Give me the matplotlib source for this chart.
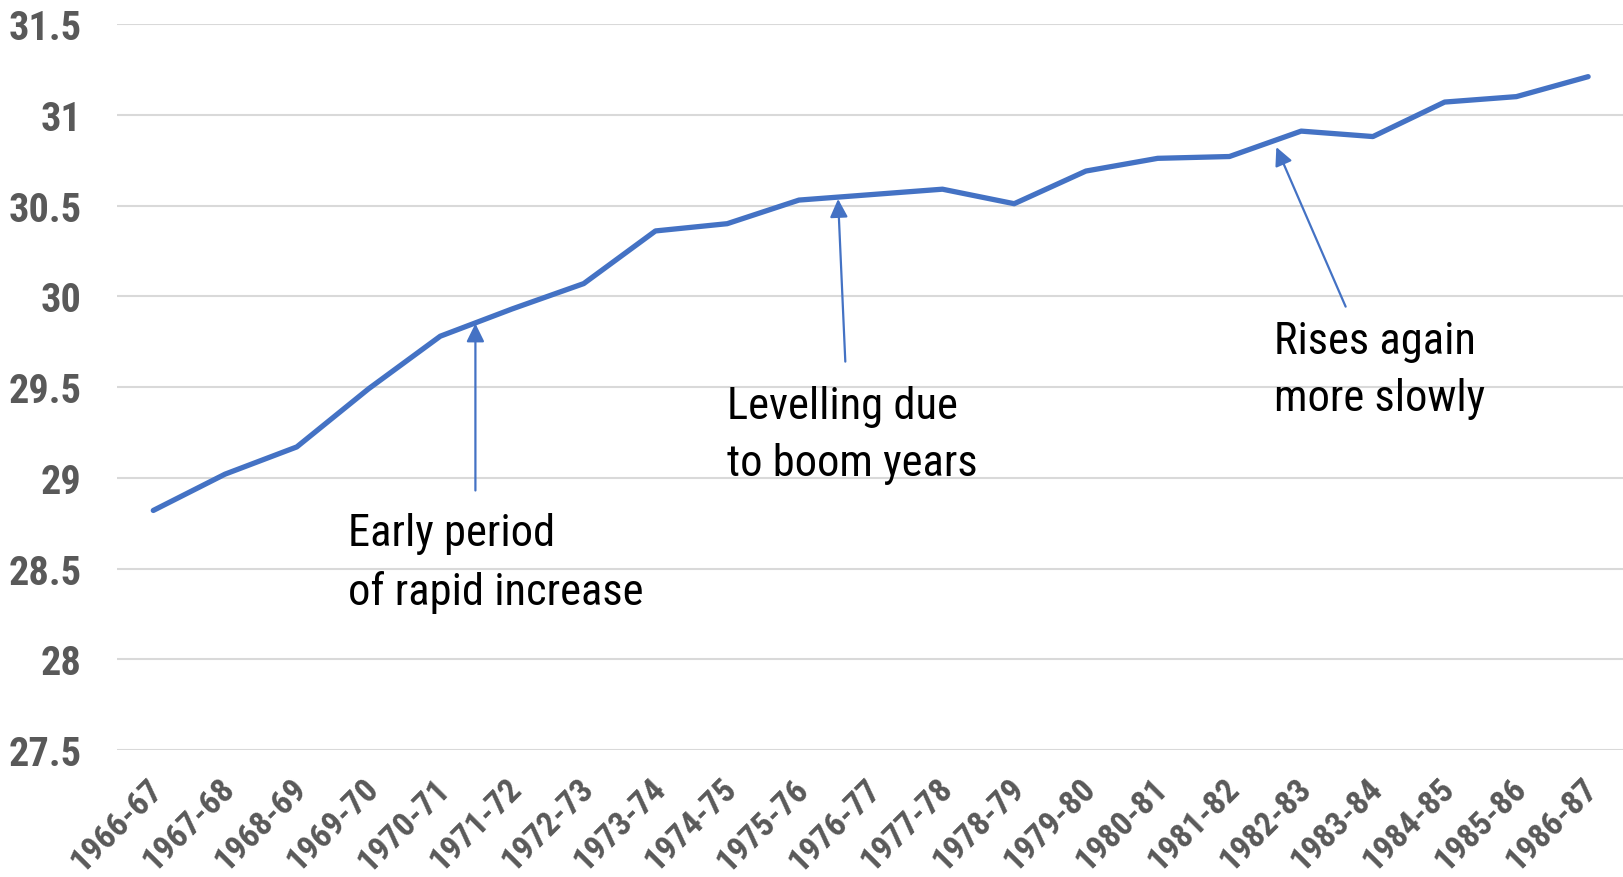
import matplotlib.pyplot as plt
from matplotlib import font_manager
import matplotlib.transforms as mtransforms

names = {f.name for f in font_manager.fontManager.ttflist}
narrow = next(n for n in ["Liberation Sans Narrow", "Arial Narrow", "Roboto Condensed",
                          "Archivo Narrow", "Barlow Semi Condensed", "DejaVu Sans"]
              if n in names)

years = ["1966-67", "1967-68", "1968-69", "1969-70", "1970-71", "1971-72",
         "1972-73", "1973-74", "1974-75", "1975-76", "1976-77", "1977-78",
         "1978-79", "1979-80", "1980-81", "1981-82", "1982-83", "1983-84",
         "1984-85", "1985-86", "1986-87"]
values = [28.82, 29.02, 29.17, 29.49, 29.78, 29.93, 30.07, 30.36, 30.40, 30.53,
          30.56, 30.59, 30.51, 30.69, 30.76, 30.77, 30.91, 30.88, 31.07, 31.10,
          31.21]
yticks = [27.5, 28, 28.5, 29, 29.5, 30, 30.5, 31, 31.5]

blue = "#4472C4"
grey = "#595959"

fig = plt.figure(figsize=(16.24, 8.78), dpi=100)
ax = fig.add_axes([0.0723, 0.1446, 0.9277, 0.8269])

x = list(range(len(years)))
ax.plot(x, values, color=blue, lw=3.8, solid_capstyle="round", zorder=3)

ax.set_xlim(-0.5, len(years) - 0.5)
ax.set_ylim(27.5, 31.5)
ax.set_yticks(yticks)
ax.set_yticklabels([f"{t:g}" for t in yticks])
ax.set_xticks(x)
ax.set_xticklabels(years, rotation=45, ha="right", va="center", rotation_mode="anchor")

ax.grid(axis="y", color="#d9d9d9", lw=1.5)
ax.set_axisbelow(True)
for s in ax.spines.values():
    s.set_visible(False)
ax.tick_params(length=0)
ax.tick_params(axis="y", pad=26)
ax.tick_params(axis="x", pad=24)
for lab in ax.get_yticklabels():
    lab.set_fontsize(29)
for lab in ax.get_xticklabels():
    lab.set_fontsize(24.5)
for lab in ax.get_yticklabels() + ax.get_xticklabels():
    lab.set_fontfamily(narrow)
    lab.set_fontweight("bold")
    lab.set_color(grey)
# nudge the rotated year labels so their ends sit on the ticks
shift = mtransforms.ScaledTranslation(5 / 100, 0, fig.dpi_scale_trans)
for lab in ax.get_xticklabels():
    lab.set_transform(lab.get_transform() + shift)

arrow = dict(arrowstyle="-|>,head_length=0.55,head_width=0.27", color=blue, lw=1.6,
             shrinkA=0, shrinkB=0, mutation_scale=20)
txt = dict(fontsize=32, fontfamily=narrow, color="black", ha="left", va="top",
           linespacing=1.45)

ax.annotate("", xy=(4.49, 29.85), xytext=(4.49, 28.93), arrowprops=arrow)
ax.text(2.715, 28.81, "Early period\nof rapid increase", **txt)

ax.annotate("", xy=(9.545, 30.536), xytext=(9.646, 29.64), arrowprops=arrow)
ax.text(8.0, 29.51, "Levelling due\nto boom years", **txt)

ax.annotate("", xy=(15.654, 30.822), xytext=(16.62, 29.943), arrowprops=arrow)
ax.text(15.625, 29.87, "Rises again\nmore slowly", **txt)

fig.savefig("out.png", dpi=100)
